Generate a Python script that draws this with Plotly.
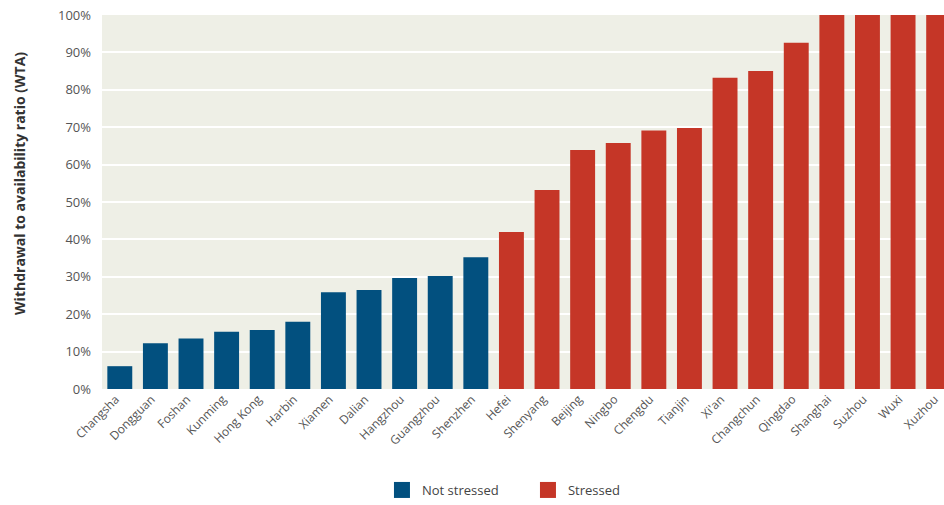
import plotly.graph_objects as go

cities = ["Changsha", "Dongguan", "Foshan", "Kunming", "Hong Kong", "Harbin", "Xiamen", "Dalian",
          "Hangzhou", "Guangzhou", "Shenzhen", "Hefei", "Shenyang", "Beijing", "Ningbo", "Chengdu",
          "Tianjin", "Xi'an", "Changchun", "Qingdao", "Shanghai", "Suzhou", "Wuxi", "Xuzhou"]
wta = [6.1, 12.2, 13.5, 15.3, 15.8, 18.0, 25.9, 26.5, 29.7, 30.2, 35.2,
       42.0, 53.2, 63.9, 65.8, 69.1, 69.8, 83.2, 85.0, 92.6, 100, 100, 100, 100]
stressed_threshold = 40
y_ticks = [0, 10, 20, 30, 40, 50, 60, 70, 80, 90, 100]
y_tick_labels = [f"{v}%" for v in y_ticks]

BLUE = "#02507F"
RED = "#C53627"

not_x = [c for c, v in zip(cities, wta) if v < stressed_threshold]
not_y = [v for v in wta if v < stressed_threshold]
st_x = [c for c, v in zip(cities, wta) if v >= stressed_threshold]
st_y = [v for v in wta if v >= stressed_threshold]

FONT = "Open Sans, sans-serif"

fig = go.Figure()
fig.add_trace(go.Bar(x=not_x, y=not_y, name="Not stressed", marker_color=BLUE,
                     marker_line_width=0, showlegend=False))
fig.add_trace(go.Bar(x=st_x, y=st_y, name="Stressed", marker_color=RED,
                     marker_line_width=0, showlegend=False))
# legend entries with larger square swatches
fig.add_trace(go.Scatter(x=[None], y=[None], mode="markers", name="Not stressed",
                         marker=dict(symbol="square", size=20, color=BLUE)))
fig.add_trace(go.Scatter(x=[None], y=[None], mode="markers", name="Stressed",
                         marker=dict(symbol="square", size=20, color=RED)))

fig.add_annotation(text="<b>Withdrawal to availability ratio (WTA)</b>",
                   textangle=-90, xref="paper", yref="paper", x=-0.0974, y=0.551,
                   xanchor="center", yanchor="middle", showarrow=False,
                   font=dict(family=FONT, size=14, color="#333333"))

fig.update_layout(
    width=944, height=505,
    margin=dict(l=102, r=0, t=15, b=116),
    barmode="relative",
    bargap=0.3,
    paper_bgcolor="white",
    plot_bgcolor="#EEEFE6",
    font=dict(family=FONT, size=12, color="#555555"),
    showlegend=True,
    legend=dict(orientation="h", x=0.3325, xanchor="left",
                yref="container", y=-0.01, yanchor="bottom",
                font=dict(family=FONT, size=13, color="#444444"),
                traceorder="normal", itemsizing="trace",
                entrywidth=101, entrywidthmode="pixels"),
    xaxis=dict(categoryorder="array", categoryarray=cities, tickangle=-45,
               range=[-0.5, 23.15], showgrid=False, ticks="", zeroline=False,
               automargin=False, ticklabelshift=-4,
               tickfont=dict(family=FONT, size=12, color="#555555")),
    yaxis=dict(range=[0, 100], tickvals=y_ticks, ticktext=y_tick_labels,
               showgrid=True, gridcolor="white", gridwidth=2, zeroline=False,
               ticks="", ticklabelstandoff=10, automargin=False,
               ticklabeloverflow="allow",
               tickfont=dict(family=FONT, size=13, color="#555555")),
)

fig.write_html("out.html", config={"displayModeBar": False},
               post_script="document.body.style.margin='0';document.body.style.overflow='hidden';")
